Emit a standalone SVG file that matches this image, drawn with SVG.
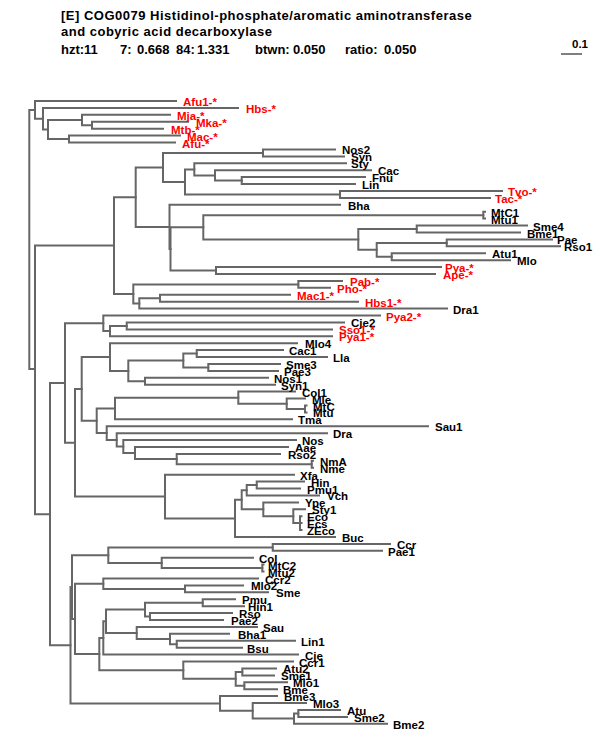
<svg xmlns="http://www.w3.org/2000/svg" width="600" height="750" viewBox="0 0 600 750">
<style>
.t{font-family:"Liberation Sans",Arial,sans-serif;font-weight:bold;font-size:13px;letter-spacing:0.5px;fill:#000}
.s{font-family:"Liberation Sans",Arial,sans-serif;font-weight:bold;font-size:13px;fill:#000}
.l{font-family:"Liberation Sans",Arial,sans-serif;font-weight:bold;font-size:11.5px;fill:#000}
.r{fill:#ff0000}
#connectors path{fill:none;stroke:#666;stroke-width:2;stroke-linecap:square}
</style>
<rect width="600" height="750" fill="#fff"/>
<g id="title">
<text class="t" x="61" y="19.5">[E] COG0079 Histidinol-phosphate/aromatic aminotransferase</text>
<text class="t" x="61" y="35.5">and cobyric acid decarboxylase</text>
<text class="s" x="61" y="53.5">hzt:11</text>
<text class="s" x="120" y="53.5">7:</text>
<text class="s" x="137" y="53.5">0.668</text>
<text class="s" x="176" y="53.5">84:</text>
<text class="s" x="197" y="53.5">1.331</text>
<text class="s" x="255" y="53.5">btwn:</text>
<text class="s" x="293" y="53.5">0.050</text>
<text class="s" x="345" y="53.5">ratio:</text>
<text class="s" x="384" y="53.5">0.050</text>
</g>
<g id="scalebar">
<text class="l" x="572" y="47.5">0.1</text>
<path d="M561 54 H582" stroke="#000" stroke-width="1"/>
</g>
<g id="connectors">
<path d="M29.3 109.9 V369 M29.3 109.9 H35 M29.3 369 H35"/>
<path d="M35 101 V118.7 M35 101 H176 M35 118.7 H43"/>
<path d="M43 107.9 V129.5 M43 107.9 H238 M43 129.5 H48"/>
<path d="M48 120 V139.1 M48 120 H82 M48 139.1 H69"/>
<path d="M82 114.8 V125.2 M82 114.8 H170 M82 125.2 H92"/>
<path d="M92 121.8 V128.7 M92 121.8 H188 M92 128.7 H163"/>
<path d="M69 135.6 V142.5 M69 135.6 H180 M69 142.5 H175"/>
<path d="M35 245.5 V514.2 M35 245.5 H114 M35 514.2 H50"/>
<path d="M114 197.2 V293.9 M114 197.2 H135.7 M114 293.9 H133.3"/>
<path d="M135.7 167.4 V226.9 M135.7 167.4 H163 M135.7 226.9 H169.5"/>
<path d="M163 152.9 V181.9 M163 152.9 H263 M163 181.9 H185"/>
<path d="M263 149.4 V156.4 M263 149.4 H335 M263 156.4 H344"/>
<path d="M185 169.4 V194.4 M185 169.4 H194.3 M185 194.4 H340"/>
<path d="M194.3 163.3 V175.4 M194.3 163.3 H346 M194.3 175.4 H215"/>
<path d="M215 170.2 V180.6 M215 170.2 H371 M215 180.6 H241.7"/>
<path d="M241.7 177.1 V184 M241.7 177.1 H365 M241.7 184 H355"/>
<path d="M340 191 V197.9 M340 191 H502 M340 197.9 H490"/>
<path d="M169.5 204.8 V248.9 M169.5 204.8 H340 M169.5 248.9 H170.5"/>
<path d="M170.5 227.3 V270.5 M170.5 227.3 H203.3 M170.5 270.5 H216"/>
<path d="M203.3 215.2 V239.4 M203.3 215.2 H483.3 M203.3 239.4 H358.3"/>
<path d="M483.3 211.7 V218.6 M483.3 211.7 H485 M483.3 218.6 H485"/>
<path d="M358.3 229 V249.8 M358.3 229 H416.7 M358.3 249.8 H376.7"/>
<path d="M416.7 225.6 V232.5 M416.7 225.6 H527 M416.7 232.5 H520"/>
<path d="M376.7 242.9 V256.7 M376.7 242.9 H446.7 M376.7 256.7 H391.7"/>
<path d="M446.7 239.4 V246.3 M446.7 239.4 H552 M446.7 246.3 H560"/>
<path d="M391.7 253.2 V260.2 M391.7 253.2 H485 M391.7 260.2 H510"/>
<path d="M216 267.1 V274 M216 267.1 H441 M216 274 H435"/>
<path d="M133.3 284.4 V303.4 M133.3 284.4 H298.3 M133.3 303.4 H139.3"/>
<path d="M298.3 280.9 V287.8 M298.3 280.9 H342 M298.3 287.8 H330"/>
<path d="M139.3 298.2 V308.6 M139.3 298.2 H160 M139.3 308.6 H447"/>
<path d="M160 294.8 V301.7 M160 294.8 H290 M160 301.7 H358"/>
<path d="M50 383 V645.3 M50 383 H65 M50 645.3 H70.5"/>
<path d="M65 323.3 V442.7 M65 323.3 H103.3 M65 442.7 H75"/>
<path d="M103.3 315.5 V331.1 M103.3 315.5 H380 M103.3 331.1 H110"/>
<path d="M110 325.9 V336.3 M110 325.9 H126.7 M110 336.3 H332"/>
<path d="M126.7 322.4 V329.4 M126.7 322.4 H344 M126.7 329.4 H332"/>
<path d="M75 388.9 V496.5 M75 388.9 H81.7 M75 496.5 H165"/>
<path d="M81.7 357 V420.8 M81.7 357 H110 M81.7 420.8 H96.7"/>
<path d="M110 343.2 V370.9 M110 343.2 H297 M110 370.9 H128.3"/>
<path d="M128.3 360.5 V381.3 M128.3 360.5 H183.3 M128.3 381.3 H145"/>
<path d="M183.3 353.6 V367.4 M183.3 353.6 H196.7 M183.3 367.4 H208.3"/>
<path d="M196.7 350.1 V357 M196.7 350.1 H283 M196.7 357 H327"/>
<path d="M208.3 364 V370.9 M208.3 364 H280 M208.3 370.9 H278"/>
<path d="M145 377.8 V384.7 M145 377.8 H268 M145 384.7 H275"/>
<path d="M96.7 408.5 V433 M96.7 408.5 H115 M96.7 433 H106.7"/>
<path d="M115 397.7 V419.3 M115 397.7 H238.3 M115 419.3 H292"/>
<path d="M238.3 391.6 V403.8 M238.3 391.6 H295 M238.3 403.8 H286.7"/>
<path d="M286.7 398.6 V409 M286.7 398.6 H305 M286.7 409 H305"/>
<path d="M305 405.5 V412.4 M305 405.5 H306.5 M305 412.4 H306.5"/>
<path d="M106.7 426.2 V439.9 M106.7 426.2 H428 M106.7 439.9 H116.7"/>
<path d="M116.7 433.2 V446.6 M116.7 433.2 H327 M116.7 446.6 H123.3"/>
<path d="M123.3 440.1 V453 M123.3 440.1 H296 M123.3 453 H135"/>
<path d="M135 447 V459.1 M135 447 H288 M135 459.1 H176.7"/>
<path d="M176.7 453.9 V464.3 M176.7 453.9 H280 M176.7 464.3 H311.7"/>
<path d="M311.7 460.8 V467.8 M311.7 460.8 H313 M311.7 467.8 H313"/>
<path d="M165 474.7 V518.4 M165 474.7 H294 M165 518.4 H235"/>
<path d="M235 499.8 V537 M235 499.8 H241.7 M235 537 H335"/>
<path d="M241.7 490.2 V509.3 M241.7 490.2 H246.7 M241.7 509.3 H263.3"/>
<path d="M246.7 485.1 V495.4 M246.7 485.1 H256.7 M246.7 495.4 H319"/>
<path d="M256.7 481.6 V488.5 M256.7 481.6 H304 M256.7 488.5 H300"/>
<path d="M263.3 502.4 V516.2 M263.3 502.4 H298 M263.3 516.2 H293.3"/>
<path d="M293.3 509.3 V523.1 M293.3 509.3 H305 M293.3 523.1 H300"/>
<path d="M300 516.2 V530 M300 516.2 H301.5 M300 523.1 H301.5 M300 530 H301.5"/>
<path d="M70.5 587.1 V703.4 M70.5 587.1 H72 M70.5 703.4 H220"/>
<path d="M72 555.2 V618.9 M72 555.2 H108.3 M72 618.9 H75"/>
<path d="M108.3 547.4 V562.9 M108.3 547.4 H272.7 M108.3 562.9 H161.7"/>
<path d="M272.7 543.9 V550.8 M272.7 543.9 H390 M272.7 550.8 H382"/>
<path d="M161.7 557.7 V568.1 M161.7 557.7 H253 M161.7 568.1 H262.3"/>
<path d="M262.3 564.6 V571.6 M262.3 564.6 H263.5 M262.3 571.6 H263.5"/>
<path d="M75 583.7 V654.1 M75 583.7 H103.3 M75 654.1 H99.3"/>
<path d="M103.3 578.5 V588.9 M103.3 578.5 H258 M103.3 588.9 H185"/>
<path d="M185 585.4 V592.3 M185 585.4 H243 M185 592.3 H268"/>
<path d="M99.3 638 V670.2 M99.3 638 H103.3 M99.3 670.2 H183.3"/>
<path d="M103.3 621.3 V654.6 M103.3 621.3 H106 M103.3 654.6 H298"/>
<path d="M106 609.6 V633 M106 609.6 H145 M106 633 H136.7"/>
<path d="M145 602.7 V616.6 M145 602.7 H202.7 M145 616.6 H150"/>
<path d="M202.7 599.2 V606.2 M202.7 599.2 H235 M202.7 606.2 H244"/>
<path d="M150 613.1 V620 M150 613.1 H232 M150 620 H223"/>
<path d="M136.7 626.9 V639 M136.7 626.9 H257 M136.7 639 H170"/>
<path d="M170 633.8 V644.2 M170 633.8 H229 M170 644.2 H176.7"/>
<path d="M176.7 640.8 V647.7 M176.7 640.8 H295 M176.7 647.7 H242"/>
<path d="M183.3 661.5 V678.8 M183.3 661.5 H293 M183.3 678.8 H235.7"/>
<path d="M235.7 671.9 V685.8 M235.7 671.9 H242.3 M235.7 685.8 H244.3"/>
<path d="M242.3 668.4 V675.4 M242.3 668.4 H276 M242.3 675.4 H274"/>
<path d="M244.3 682.3 V689.2 M244.3 682.3 H287 M244.3 689.2 H277"/>
<path d="M220 696.1 V710.8 M220 696.1 H277 M220 710.8 H252.7"/>
<path d="M252.7 703 V718.6 M252.7 703 H306 M252.7 718.6 H294"/>
<path d="M294 713.4 V723.8 M294 713.4 H298.3 M294 723.8 H387"/>
<path d="M298.3 710 V716.9 M298.3 710 H340 M298.3 716.9 H347"/>
</g>
<g id="leaves">
<g id="n-Afu1"><text class="l r" x="183" y="106">Afu1-*</text></g>
<g id="n-Hbs"><text class="l r" x="246" y="112.9">Hbs-*</text></g>
<g id="n-Mja"><text class="l r" x="177" y="119.8">Mja-*</text></g>
<g id="n-Mka"><text class="l r" x="196" y="126.8">Mka-*</text></g>
<g id="n-Mtb"><text class="l r" x="171" y="133.7">Mtb-*</text></g>
<g id="n-Mac"><text class="l r" x="187" y="140.6">Mac-*</text></g>
<g id="n-Afu"><text class="l r" x="182" y="147.5">Afu-*</text></g>
<g id="n-Nos2"><text class="l" x="342" y="154.4">Nos2</text></g>
<g id="n-Syn"><text class="l" x="351" y="161.4">Syn</text></g>
<g id="n-Sty"><text class="l" x="351" y="168.3">Sty</text></g>
<g id="n-Cac"><text class="l" x="378" y="175.2">Cac</text></g>
<g id="n-Fnu"><text class="l" x="372" y="182.1">Fnu</text></g>
<g id="n-Lin"><text class="l" x="362" y="189">Lin</text></g>
<g id="n-Tvo"><text class="l r" x="508" y="196">Tvo-*</text></g>
<g id="n-Tac"><text class="l r" x="495" y="202.9">Tac-*</text></g>
<g id="n-Bha"><text class="l" x="348" y="209.8">Bha</text></g>
<g id="n-MtC1"><text class="l" x="491" y="216.7">MtC1</text></g>
<g id="n-Mtu1"><text class="l" x="491" y="223.6">Mtu1</text></g>
<g id="n-Sme4"><text class="l" x="533" y="230.6">Sme4</text></g>
<g id="n-Bme1"><text class="l" x="527" y="237.5">Bme1</text></g>
<g id="n-Pae"><text class="l" x="557" y="244.4">Pae</text></g>
<g id="n-Rso1"><text class="l" x="564" y="251.3">Rso1</text></g>
<g id="n-Atu1"><text class="l" x="492" y="258.2">Atu1</text></g>
<g id="n-Mlo"><text class="l" x="517" y="265.2">Mlo</text></g>
<g id="n-Pya"><text class="l r" x="445" y="272.1">Pya-*</text></g>
<g id="n-Ape"><text class="l r" x="443" y="279">Ape-*</text></g>
<g id="n-Pab"><text class="l r" x="350" y="285.9">Pab-*</text></g>
<g id="n-Pho"><text class="l r" x="337" y="292.8">Pho-*</text></g>
<g id="n-Mac1"><text class="l r" x="297" y="299.8">Mac1-*</text></g>
<g id="n-Hbs1"><text class="l r" x="365" y="306.7">Hbs1-*</text></g>
<g id="n-Dra1"><text class="l" x="453" y="313.6">Dra1</text></g>
<g id="n-Pya2"><text class="l r" x="386" y="320.5">Pya2-*</text></g>
<g id="n-Cje2"><text class="l" x="351" y="327.4">Cje2</text></g>
<g id="n-Sso1"><text class="l r" x="339" y="334.4">Sso1-*</text></g>
<g id="n-Pya1"><text class="l r" x="339" y="341.3">Pya1-*</text></g>
<g id="n-Mlo4"><text class="l" x="305" y="348.2">Mlo4</text></g>
<g id="n-Cac1"><text class="l" x="289" y="355.1">Cac1</text></g>
<g id="n-Lla"><text class="l" x="333" y="362">Lla</text></g>
<g id="n-Sme3"><text class="l" x="286" y="369">Sme3</text></g>
<g id="n-Pae3"><text class="l" x="284" y="375.9">Pae3</text></g>
<g id="n-Nos1"><text class="l" x="274" y="382.8">Nos1</text></g>
<g id="n-Syn1"><text class="l" x="281" y="389.7">Syn1</text></g>
<g id="n-Col1"><text class="l" x="302" y="396.6">Col1</text></g>
<g id="n-Mle"><text class="l" x="312" y="403.6">Mle</text></g>
<g id="n-MtC"><text class="l" x="313" y="410.5">MtC</text></g>
<g id="n-Mtu"><text class="l" x="313" y="417.4">Mtu</text></g>
<g id="n-Tma"><text class="l" x="298" y="424.3">Tma</text></g>
<g id="n-Sau1"><text class="l" x="435" y="431.2">Sau1</text></g>
<g id="n-Dra"><text class="l" x="333" y="438.2">Dra</text></g>
<g id="n-Nos"><text class="l" x="302" y="445.1">Nos</text></g>
<g id="n-Aae"><text class="l" x="295" y="452">Aae</text></g>
<g id="n-Rso2"><text class="l" x="288" y="458.9">Rso2</text></g>
<g id="n-NmA"><text class="l" x="320" y="465.8">NmA</text></g>
<g id="n-Nme"><text class="l" x="320" y="472.8">Nme</text></g>
<g id="n-Xfa"><text class="l" x="300" y="479.7">Xfa</text></g>
<g id="n-Hin"><text class="l" x="311" y="486.6">Hin</text></g>
<g id="n-Pmu1"><text class="l" x="307" y="493.5">Pmu1</text></g>
<g id="n-Vch"><text class="l" x="327" y="500.4">Vch</text></g>
<g id="n-Ype"><text class="l" x="305" y="507.4">Ype</text></g>
<g id="n-Sty1"><text class="l" x="312" y="514.3">Sty1</text></g>
<g id="n-Eco"><text class="l" x="307" y="521.2">Eco</text></g>
<g id="n-Ecs"><text class="l" x="307" y="528.1">Ecs</text></g>
<g id="n-ZEco"><text class="l" x="307" y="535">ZEco</text></g>
<g id="n-Buc"><text class="l" x="342" y="542">Buc</text></g>
<g id="n-Ccr"><text class="l" x="397" y="548.9">Ccr</text></g>
<g id="n-Pae1"><text class="l" x="388" y="555.8">Pae1</text></g>
<g id="n-Col"><text class="l" x="259" y="562.7">Col</text></g>
<g id="n-MtC2"><text class="l" x="268" y="569.6">MtC2</text></g>
<g id="n-Mtu2"><text class="l" x="268" y="576.6">Mtu2</text></g>
<g id="n-Ccr2"><text class="l" x="265" y="583.5">Ccr2</text></g>
<g id="n-Mlo2"><text class="l" x="251" y="590.4">Mlo2</text></g>
<g id="n-Sme"><text class="l" x="276" y="597.3">Sme</text></g>
<g id="n-Pmu"><text class="l" x="242" y="604.2">Pmu</text></g>
<g id="n-Hin1"><text class="l" x="248" y="611.2">Hin1</text></g>
<g id="n-Rso"><text class="l" x="239" y="618.1">Rso</text></g>
<g id="n-Pae2"><text class="l" x="231" y="625">Pae2</text></g>
<g id="n-Sau"><text class="l" x="263" y="631.9">Sau</text></g>
<g id="n-Bha1"><text class="l" x="238" y="638.8">Bha1</text></g>
<g id="n-Lin1"><text class="l" x="301" y="645.8">Lin1</text></g>
<g id="n-Bsu"><text class="l" x="247" y="652.7">Bsu</text></g>
<g id="n-Cje"><text class="l" x="305" y="659.6">Cje</text></g>
<g id="n-Ccr1"><text class="l" x="299" y="666.5">Ccr1</text></g>
<g id="n-Atu2"><text class="l" x="283" y="673.4">Atu2</text></g>
<g id="n-Sme1"><text class="l" x="281" y="680.4">Sme1</text></g>
<g id="n-Mlo1"><text class="l" x="293" y="687.3">Mlo1</text></g>
<g id="n-Bme"><text class="l" x="283" y="694.2">Bme</text></g>
<g id="n-Bme3"><text class="l" x="284" y="701.1">Bme3</text></g>
<g id="n-Mlo3"><text class="l" x="313" y="708">Mlo3</text></g>
<g id="n-Atu"><text class="l" x="347" y="715">Atu</text></g>
<g id="n-Sme2"><text class="l" x="354" y="721.9">Sme2</text></g>
<g id="n-Bme2"><text class="l" x="393" y="728.8">Bme2</text></g>
</g>
</svg>
